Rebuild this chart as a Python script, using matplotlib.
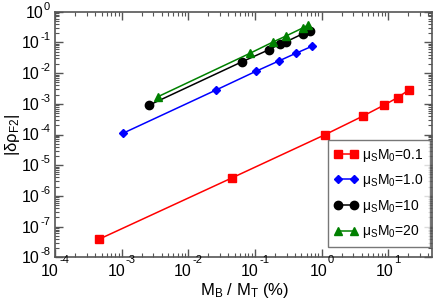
import matplotlib
matplotlib.use("Agg")
import matplotlib.pyplot as plt
from matplotlib.ticker import LogLocator, FixedLocator, NullFormatter

plt.rcParams['font.family'] = ['Liberation Sans', 'DejaVu Sans']
plt.rcParams['mathtext.fontset'] = 'custom'
plt.rcParams['mathtext.rm'] = 'Liberation Sans'
plt.rcParams['mathtext.it'] = 'Liberation Sans'

# Data
x_01 = [4.6e-4, 0.0457, 1.12, 4.2, 8.7, 13.9, 20.3]
y_01 = [3.9e-8, 3.9e-6, 9.8e-5, 4.0e-4, 9.1e-4, 1.6e-3, 2.8e-3]
x_10 = [1.05e-3, 0.026, 0.103, 0.23, 0.41, 0.71]
y_10 = [1.1e-4, 2.8e-3, 0.0114, 0.025, 0.044, 0.074]
x_100 = [2.6e-3, 0.063, 0.16, 0.242, 0.294, 0.52, 0.67]
y_100 = [9.1e-4, 0.023, 0.057, 0.09, 0.105, 0.19, 0.23]
x_200 = [3.5e-3, 0.084, 0.19, 0.29, 0.53, 0.63]
y_200 = [1.7e-3, 0.044, 0.105, 0.16, 0.30, 0.37]
labels = ['μ$_\\mathregular{S}$M$_\\mathregular{0}$=0.1', 'μ$_\\mathregular{S}$M$_\\mathregular{0}$=1.0',
          'μ$_\\mathregular{S}$M$_\\mathregular{0}$=10', 'μ$_\\mathregular{S}$M$_\\mathregular{0}$=20']
x_exponents = [-4, -3, -2, -1, 0, 1]
y_exponents = [-8, -7, -6, -5, -4, -3, -2, -1, 0]

BASE_FS = 11.5
EXP_FS = 8

fig = plt.figure(figsize=(4.36, 3.03), dpi=100)
ax = fig.add_axes([55/436, 1-257.3/303, (431.7-55)/436, (257.3-11.7)/303])

ax.plot(x_01, y_01, color='#ff0000', marker='s', markersize=5.2, lw=1.1, label=labels[0])
ax.plot(x_10, y_10, color='#0000ff', marker='D', markersize=4, lw=1.1, label=labels[1])
ax.plot(x_100, y_100, color='black', marker='o', markersize=6, lw=1.1, label=labels[2])
ax.plot(x_200, y_200, color='#008000', marker='^', markersize=6, lw=1.1, label=labels[3])

ax.set_xscale('log')
ax.set_yscale('log')
ax.set_xlim(1e-4, 45)
ax.set_ylim(1e-8, 1e0)

ax.xaxis.set_major_locator(FixedLocator([10.0**e for e in x_exponents]))
ax.yaxis.set_major_locator(FixedLocator([10.0**e for e in y_exponents]))
ax.xaxis.set_minor_locator(LogLocator(base=10, subs=range(2, 10), numticks=50))
ax.yaxis.set_minor_locator(LogLocator(base=10, subs=range(2, 10), numticks=50))
ax.xaxis.set_major_formatter(NullFormatter())
ax.yaxis.set_major_formatter(NullFormatter())
ax.xaxis.set_minor_formatter(NullFormatter())
ax.yaxis.set_minor_formatter(NullFormatter())

for s in ax.spines.values():
    s.set_color('#555555')
    s.set_linewidth(1.2)
ax.tick_params(which='both', direction='in', top=True, right=True, color='#555555')
ax.tick_params(which='major', length=6, width=1)
ax.tick_params(which='minor', length=3, width=0.8)

def expstr(e):
    return ('-%d' % -e) if e < 0 else '%d' % e

# manual tick labels "10" + superscript
xt = []
for e in x_exponents:
    b = ax.annotate('10', xy=(10.0**e, 0), xycoords=('data', 'axes fraction'),
                    xytext=(0, -19), textcoords='offset pixels',
                    ha='left', va='baseline', fontsize=BASE_FS)
    s = ax.annotate(expstr(e), xy=(10.0**e, 0), xycoords=('data', 'axes fraction'),
                    xytext=(0, -6), textcoords='offset pixels',
                    ha='left', va='baseline', fontsize=EXP_FS)
    xt.append((b, s))
yt = []
for e in y_exponents:
    s = ax.annotate(expstr(e), xy=(0, 10.0**e), xycoords=('axes fraction', 'data'),
                    xytext=(-5, 2), textcoords='offset pixels',
                    ha='right', va='baseline', fontsize=EXP_FS)
    b = ax.annotate('10', xy=(0, 10.0**e), xycoords=('axes fraction', 'data'),
                    xytext=(-5, -6), textcoords='offset pixels',
                    ha='right', va='baseline', fontsize=BASE_FS)
    yt.append((b, s))

fig.canvas.draw()
r = fig.canvas.get_renderer()
gap = 0.5
for b, s in xt:
    bw = b.get_window_extent(r).width
    sw = s.get_window_extent(r).width
    tot = bw + gap + sw
    b.xyann = (-tot / 2, -19)
    s.xyann = (-tot / 2 + bw + gap, -6)
for b, s in yt:
    sw = s.get_window_extent(r).width
    b.xyann = (-5 - sw - gap, -6)

ax.set_xlabel('M$_\\mathregular{B}$ / M$_\\mathregular{T}$ (%)', fontsize=12)
ax.xaxis.set_label_coords((245 - 55) / 376.7, -(295 - 257.3) / 245.6)
ax.xaxis.label.set_va('baseline')
ax.set_ylabel('|δρ$_\\mathregular{F2}$|', fontsize=12)
ax.yaxis.set_label_coords(-(55 - 22) / 376.7, 0.5)

leg = ax.legend(loc='lower right', bbox_to_anchor=((430 - 55) / 376.7, (257.3 - 246.7) / 245.6),
                borderaxespad=0, fontsize=10, frameon=True, fancybox=False,
                edgecolor='#555555', handlelength=1.75, numpoints=2,
                labelspacing=0.62, borderpad=0.45, handletextpad=0.3)
leg.get_frame().set_linewidth(1.0)

fig.savefig('out.png', dpi=100)
